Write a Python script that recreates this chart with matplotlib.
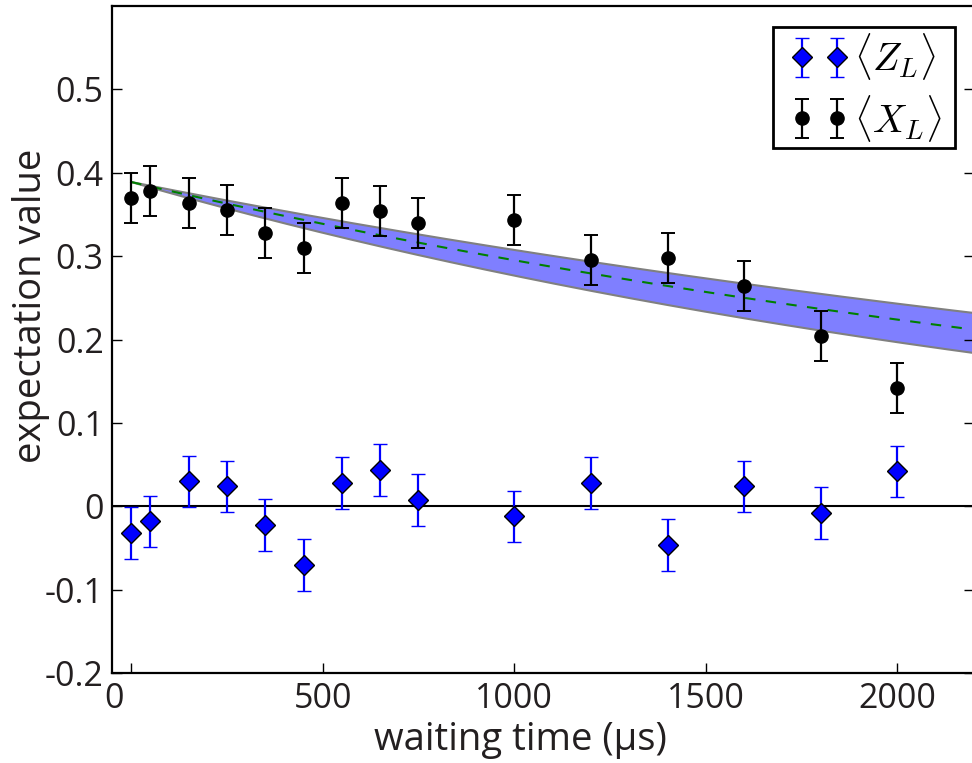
import numpy as np
import matplotlib
matplotlib.use("Agg")
import matplotlib.pyplot as plt
import matplotlib.transforms as mtransforms
from matplotlib.patches import Rectangle

plt.rcParams['font.family'] = ['Open Sans', 'DejaVu Sans']
plt.rcParams['mathtext.fontset'] = 'cm'

# waiting times (us)
t_x = [0, 50, 150, 250, 350, 450, 550, 650, 750, 1000, 1200, 1400, 1600, 1800, 2000]
xl_vals = [0.370, 0.378, 0.364, 0.356, 0.328, 0.310, 0.364, 0.354, 0.340, 0.344,
           0.296, 0.298, 0.264, 0.204, 0.142]
xl_err = [0.03] * 15

t_z = [0, 50, 150, 250, 350, 450, 550, 650, 750, 1000, 1200, 1400, 1600, 1800, 2000]
zl_vals = [-0.032, -0.018, 0.030, 0.024, -0.022, -0.070, 0.028, 0.044, 0.008, -0.012,
           0.028, -0.046, 0.024, -0.008, 0.042]
zl_err = [0.031] * 15

# exponential decay fit of <X_L>: amplitude and decay times (fit, upper, lower bound)
fit_amp = 0.389
fit_T = 3624.0
fit_T_upper = 4255.0
fit_T_lower = 2938.0

xticks = [0, 500, 1000, 1500, 2000]
yticks = [-0.2, -0.1, 0, 0.1, 0.2, 0.3, 0.4, 0.5]
ytick_labels = ['-0.2', '-0.1', '0', '0.1', '0.2', '0.3', '0.4', '0.5']

fig = plt.figure(figsize=(9.72, 7.63), dpi=100)
ax = fig.add_axes([112/972, (763-673.3)/763, (974-112)/972, (673.3-6)/763])

tt = np.linspace(0, 2250, 300)
upper = fit_amp * np.exp(-tt / fit_T_upper)
lower = fit_amp * np.exp(-tt / fit_T_lower)
mid = fit_amp * np.exp(-tt / fit_T)
ax.fill_between(tt, lower, upper, facecolor='#7f7fff', edgecolor='none', zorder=1)
ax.plot(tt, upper, color='#808080', lw=1.5, zorder=1.5)
ax.plot(tt, lower, color='#808080', lw=1.5, zorder=1.5)
ax.plot(tt, mid, color='#008000', lw=1.5, ls=(0, (5, 5)), zorder=2)

ax.axhline(0, color='k', lw=1.5, zorder=2)

ax.errorbar(t_z, zl_vals, yerr=zl_err, fmt='D', color='#0000ff', mfc='#0000ff', mec='k',
            mew=1.0, ms=10, ecolor='#0000ff', elinewidth=1.6, capsize=5, capthick=1.4,
            label=r'$\langle Z_L\rangle$', zorder=4)
ax.errorbar(t_x, xl_vals, yerr=xl_err, fmt='o', color='k', mfc='k', mec='k',
            ms=9.5, ecolor='k', elinewidth=1.6, capsize=5, capthick=1.4,
            label=r'$\langle X_L\rangle$', zorder=4)

ax.set_xlim(-50, 2200)
ax.set_ylim(-0.2, 0.6)
ax.set_xticks(xticks)
ax.set_xticklabels([str(v) for v in xticks])
ax.set_yticks(yticks)
ax.set_yticklabels(ytick_labels)

ax.tick_params(axis='both', direction='in', length=7, width=1.0, labelsize=24.5,
               labelcolor='#231f20', pad=6)
ax.tick_params(axis='y', right=True)
for s in ax.spines.values():
    s.set_linewidth(1.6)

# shift the '0' x tick label as in the reference
lbl0 = ax.get_xticklabels()[0]
lbl0.set_transform(lbl0.get_transform() + mtransforms.ScaledTranslation(-17/100, 0, fig.dpi_scale_trans))

ax.set_xlabel('waiting time (μs)', fontsize=27.5, color='#231f20', va='center')
ax.xaxis.set_label_coords((520-112)/862, (673.3-740)/667.3)
ax.set_ylabel('expectation value', fontsize=27.5, color='#231f20', va='center')
ax.yaxis.set_label_coords((31-112)/862, (673.3-306)/667.3)

leg = ax.legend(loc='center', numpoints=2, fontsize=28, frameon=False,
                borderpad=0.0, handlelength=1.5, handletextpad=0.15, labelspacing=0.26,
                bbox_to_anchor=((866-112)/862, (673.3-87.5)/667.3), bbox_transform=ax.transAxes,
                borderaxespad=0)
leg.set_zorder(6)

# legend frame
frame = Rectangle((773/972, (763-148)/763), 182/972, 121/763, transform=fig.transFigure,
                  facecolor='white', edgecolor='k', linewidth=2.0, zorder=5)
ax.add_artist(frame)
frame.set_clip_on(False)

fig.savefig('out.png', dpi=100)
